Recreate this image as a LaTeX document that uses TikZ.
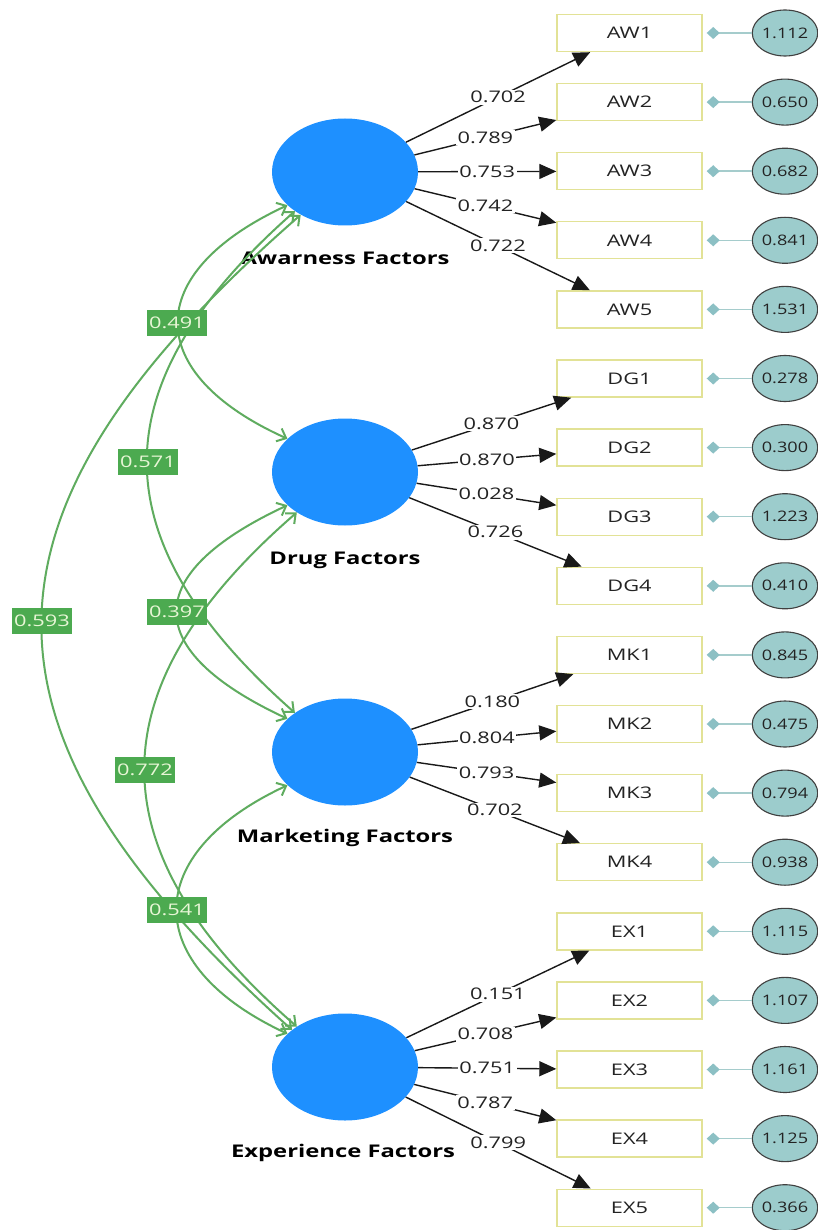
\documentclass[tikz,border=0pt]{standalone}
\usepackage{fontspec}
\setmainfont{Open Sans}
\usepackage{graphicx}
\usetikzlibrary{shapes.geometric,arrows.meta,calc}
\definecolor{latblue}{RGB}{30,144,255}
\definecolor{boxedge}{RGB}{226,226,150}
\definecolor{errfill}{RGB}{156,204,204}
\definecolor{errline}{RGB}{165,204,204}
\definecolor{errdia}{RGB}{140,192,196}
\definecolor{corrgreen}{RGB}{95,172,95}
\definecolor{corrbox}{RGB}{76,170,80}
\definecolor{corrtext}{RGB}{232,246,214}
\definecolor{txtgray}{RGB}{35,35,35}
\newcommand{\hstr}[2][1.36]{\scalebox{#1}[1]{#2}}
\begin{document}
\begin{tikzpicture}[x=1pt,y=-1pt,
  latent/.style={ellipse, fill=latblue, minimum width=146pt, minimum height=107pt, inner sep=0pt},
  ind/.style={rectangle, draw=boxedge, line width=1.4pt, fill=white, minimum width=145pt, minimum height=37pt, inner sep=0pt, text=txtgray, font=\fontsize{16}{18}\selectfont},
  err/.style={ellipse, draw=black!75, line width=1.1pt, fill=errfill, minimum width=61pt, minimum height=46pt, inner sep=0pt, text=txtgray, font=\fontsize{14.5}{16}\selectfont},
  load/.style={draw=black!90, line width=1.4pt, -{Triangle[length=17pt,width=15pt]}},
  lbl/.style={fill=white, inner sep=1.5pt, text=txtgray, font=\fontsize{16}{18}\selectfont},
  errarrow/.style={draw=errline, line width=1.4pt, -{Diamond[length=13pt,width=12pt,color=errdia]}, shorten >=4pt},
  corr/.style={draw=corrgreen, line width=2pt, >={Straight Barb[length=8pt,width=14pt]}, <->},
  corrlbl/.style={fill=corrbox, text=corrtext, minimum height=26pt, inner xsep=2pt, inner ysep=0pt, font=\fontsize{16}{18}\selectfont},
  latlbl/.style={font=\bfseries\fontsize{17.5}{20}\selectfont, text=black}
]
\useasboundingbox (0,0) rectangle (818,1230);
\fill[white] (0,0) rectangle (818,1230);

% latent variables
\node[latent] (aw) at (345,172) {};
\node[latent] (dg) at (345,472) {};
\node[latent] (mk) at (345,752) {};
\node[latent] (ex) at (345,1067) {};
\node[latlbl] (awl) at (345,258) {\hstr{Awarness Factors}};
\node[latlbl] (dgl) at (345,560) {\hstr{Drug Factors}};
\node[latlbl] (mkl) at (345,838) {\hstr{Marketing Factors}};
\node[latlbl] (exl) at (343,1153) {\hstr{Experience Factors}};

% correlations (double-headed arcs)
\draw[corr] (aw.210) .. controls (141.7,273) and (141.7,373) .. (dg.150);
\draw[corr] (aw.218) .. controls (98,385) and (98,539) .. (mk.142);
\draw[corr] (aw.224) .. controls (-43,515) and (-43,730) .. (ex.145);
\draw[corr] (dg.210) .. controls (140,574) and (140,650) .. (mk.150);
\draw[corr] (dg.220) .. controls (94,688.5) and (94,850.5) .. (ex.140);
\draw[corr] (mk.210) .. controls (140,854) and (140,965) .. (ex.150);

\node[corrlbl] (c491) at (177,323) {\hstr{0.491}};
\node[corrlbl] (c571) at (148,462) {\hstr{0.571}};
\node[corrlbl] (c593) at (42,621) {\hstr{0.593}};
\node[corrlbl] (c397) at (177,612) {\hstr{0.397}};
\node[corrlbl] (c772) at (145,770) {\hstr{0.772}};
\node[corrlbl] (c541) at (177,910) {\hstr{0.541}};

% indicators, loadings and error terms
\foreach \n/\y/\lat/\ld/\ev in {
  AW1/33.0/aw/0.702/1.112,
  AW2/102.1/aw/0.789/0.650,
  AW3/171.2/aw/0.753/0.682,
  AW4/240.3/aw/0.742/0.841,
  AW5/309.4/aw/0.722/1.531,
  DG1/378.5/dg/0.870/0.278,
  DG2/447.6/dg/0.870/0.300,
  DG3/516.7/dg/0.028/1.223,
  DG4/585.8/dg/0.726/0.410,
  MK1/654.9/mk/0.180/0.845,
  MK2/724.0/mk/0.804/0.475,
  MK3/793.1/mk/0.793/0.794,
  MK4/862.2/mk/0.702/0.938,
  EX1/931.3/ex/0.151/1.115,
  EX2/1000.4/ex/0.708/1.107,
  EX3/1069.5/ex/0.751/1.161,
  EX4/1138.6/ex/0.787/1.125,
  EX5/1207.7/ex/0.799/0.366}{
  \node[ind] (\n) at (629.5,\y) {\hstr{\n}};
  \node[err] (e\n) at (785,\y) {\hstr[1.25]{\ev}};
  \draw[load] (\lat) -- node[lbl] {\hstr{\ld}} (\n);
  \draw[errarrow] (e\n) -- (\n);
}
\end{tikzpicture}
\end{document}
